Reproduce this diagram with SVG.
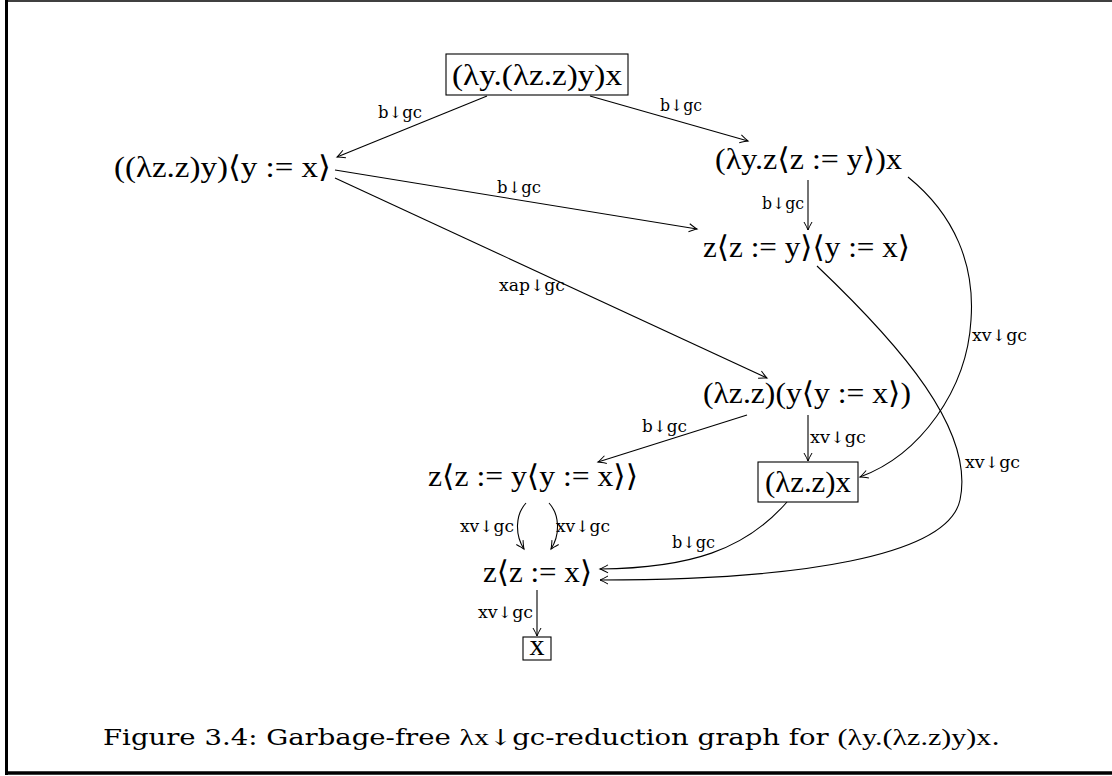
<svg xmlns="http://www.w3.org/2000/svg" width="1112" height="776" viewBox="0 0 1112 776">
<style>
.m{font-family:"Liberation Serif","DejaVu Sans",serif;font-size:30px;fill:#000}
.l{font-family:"DejaVu Serif","Liberation Serif",serif;font-size:16px;fill:#000}
.cap{font-family:"DejaVu Serif","Liberation Serif",serif;font-size:22px;fill:#000}
.e{fill:none;stroke:#000;stroke-width:1.1}
.box{fill:none;stroke:#000;stroke-width:1.1}
</style>
<defs>
<marker id="arr" markerUnits="userSpaceOnUse" viewBox="-9 -5 10 10" markerWidth="10" markerHeight="10" refX="0" refY="0" orient="auto" overflow="visible">
<path d="M -8 -4 Q -2.5 -0.9 0 0 Q -2.5 0.9 -8 4" fill="none" stroke="#000" stroke-width="1"/>
</marker>
</defs>
<rect width="1112" height="776" fill="#fff"/>
<g id="frame" stroke="#000" fill="none">
<line x1="6.5" y1="0" x2="6.5" y2="775" stroke-width="3"/>
<line x1="5" y1="1" x2="1112" y2="1" stroke-width="1.5"/>
<line x1="5" y1="773" x2="1112" y2="773" stroke-width="3.5"/>
</g>
<g id="connectors">
<path class="e" d="M 487 96 L 337 157" marker-end="url(#arr)"/>
<text class="l" x="378" y="118" textLength="44" lengthAdjust="spacingAndGlyphs">b↓gc</text>
<path class="e" d="M 590 96 L 748 141" marker-end="url(#arr)"/>
<text class="l" x="660" y="111" textLength="42" lengthAdjust="spacingAndGlyphs">b↓gc</text>
<path class="e" d="M 335 170 L 697 229" marker-end="url(#arr)"/>
<text class="l" x="497" y="193" textLength="44" lengthAdjust="spacingAndGlyphs">b↓gc</text>
<path class="e" d="M 808 180 L 808 230" marker-end="url(#arr)"/>
<text class="l" x="762" y="209" textLength="42" lengthAdjust="spacingAndGlyphs">b↓gc</text>
<path class="e" d="M 335 178 L 767 378" marker-end="url(#arr)"/>
<text class="l" x="499" y="291" textLength="66" lengthAdjust="spacingAndGlyphs">xap↓gc</text>
<path class="e" d="M 747 415 L 598 462" marker-end="url(#arr)"/>
<text class="l" x="642" y="432" textLength="45" lengthAdjust="spacingAndGlyphs">b↓gc</text>
<path class="e" d="M 808 415 L 808 461" marker-end="url(#arr)"/>
<text class="l" x="810" y="443" textLength="56" lengthAdjust="spacingAndGlyphs">xv↓gc</text>
<path class="e" d="M 908 177 C 955 215, 975 265, 971 320 C 967 390, 920 455, 860 477" marker-end="url(#arr)"/>
<text class="l" x="972" y="341" textLength="55" lengthAdjust="spacingAndGlyphs">xv↓gc</text>
<path class="e" d="M 817 266 C 900 345, 975 430, 960 500 C 948 556, 800 580, 600 580" marker-end="url(#arr)"/>
<text class="l" x="965" y="468" textLength="55" lengthAdjust="spacingAndGlyphs">xv↓gc</text>
<path class="e" d="M 787 502 C 745 550, 690 568, 600 569" marker-end="url(#arr)"/>
<text class="l" x="672" y="548" textLength="43" lengthAdjust="spacingAndGlyphs">b↓gc</text>
<path class="e" d="M 526 503 C 515 515, 515 535, 524 549" marker-end="url(#arr)"/>
<text class="l" x="460" y="532" textLength="54" lengthAdjust="spacingAndGlyphs">xv↓gc</text>
<path class="e" d="M 549 503 C 560 515, 560 535, 551 549" marker-end="url(#arr)"/>
<text class="l" x="556" y="532" textLength="54" lengthAdjust="spacingAndGlyphs">xv↓gc</text>
<path class="e" d="M 537 590 L 537 636" marker-end="url(#arr)"/>
<text class="l" x="478" y="618" textLength="55" lengthAdjust="spacingAndGlyphs">xv↓gc</text>
</g>
<g id="n0">
<rect class="box" x="446" y="54" width="182" height="41"/>
<text class="m" x="452" y="85" textLength="170" lengthAdjust="spacingAndGlyphs">(λy.(λz.z)y)x</text>
</g>
<g id="n1">
<text class="m" x="114" y="177" textLength="217" lengthAdjust="spacingAndGlyphs">((λz.z)y)⟨y := x⟩</text>
</g>
<g id="n2">
<text class="m" x="715" y="169" textLength="187" lengthAdjust="spacingAndGlyphs">(λy.z⟨z := y⟩)x</text>
</g>
<g id="n3">
<text class="m" x="703" y="257" textLength="207" lengthAdjust="spacingAndGlyphs">z⟨z := y⟩⟨y := x⟩</text>
</g>
<g id="n4">
<text class="m" x="703" y="403" textLength="208" lengthAdjust="spacingAndGlyphs">(λz.z)(y⟨y := x⟩)</text>
</g>
<g id="n5">
<text class="m" x="428" y="486" textLength="210" lengthAdjust="spacingAndGlyphs">z⟨z := y⟨y := x⟩⟩</text>
</g>
<g id="n6">
<rect class="box" x="758" y="462" width="100" height="40"/>
<text class="m" x="765" y="492" textLength="86" lengthAdjust="spacingAndGlyphs">(λz.z)x</text>
</g>
<g id="n7">
<text class="m" x="483" y="582" textLength="109" lengthAdjust="spacingAndGlyphs">z⟨z := x⟩</text>
</g>
<g id="n8">
<rect class="box" x="523" y="637" width="28" height="23"/>
<text class="m" x="537" y="655" text-anchor="middle">x</text>
</g>
<g id="caption">
<text class="cap" x="103" y="745" textLength="897" lengthAdjust="spacingAndGlyphs">Figure 3.4: Garbage-free <tspan class="m" style="font-size:24px">λx</tspan>↓gc-reduction graph for <tspan class="m" style="font-size:24px">(λy.(λz.z)y)x</tspan>.</text>
</g>
</svg>
